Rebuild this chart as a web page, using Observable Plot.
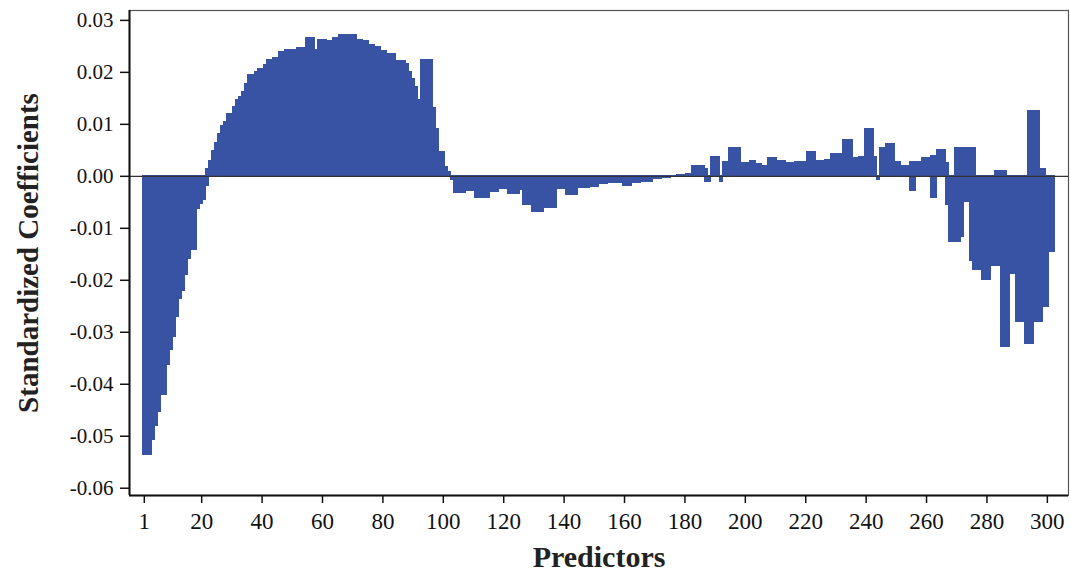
<!DOCTYPE html>
<html>
<head>
<meta charset="utf-8">
<script src="https://cdn.jsdelivr.net/npm/d3@7"></script>
<script src="https://cdn.jsdelivr.net/npm/@observablehq/plot@0.6"></script>
<style>
  html, body { margin: 0; padding: 0; background: #fff; }
  #chart { width: 1070px; height: 575px; }
</style>
</head>
<body>
<div id="chart"></div>
<script>
// Standardized coefficient per predictor (1..302)
const coefficients = [
  -0.0536,-0.0536,-0.0536,-0.0508,-0.0480,-0.0454,-0.0420,-0.0420,-0.0363,-0.0335,
  -0.0310,-0.0270,-0.0236,-0.0220,-0.0189,-0.0160,-0.0141,-0.0141,-0.0062,-0.0053,
  -0.0045,0.0014,0.0030,0.0049,0.0065,0.0082,0.0096,0.0104,0.0119,0.0119,
  0.0134,0.0146,0.0153,0.0163,0.0178,0.0194,0.0194,0.0200,0.0207,0.0207,
  0.0215,0.0223,0.0223,0.0228,0.0228,0.0239,0.0239,0.0243,0.0243,0.0243,
  0.0243,0.0247,0.0247,0.0247,0.0267,0.0267,0.0267,0.0243,0.0262,0.0262,
  0.0262,0.0260,0.0260,0.0267,0.0267,0.0271,0.0271,0.0271,0.0271,0.0271,
  0.0271,0.0262,0.0262,0.0260,0.0260,0.0253,0.0253,0.0248,0.0248,0.0242,
  0.0242,0.0235,0.0235,0.0235,0.0221,0.0221,0.0221,0.0216,0.0200,0.0187,
  0.0171,0.0146,0.0224,0.0224,0.0224,0.0224,0.0132,0.0091,0.0046,0.0046,
  0.0017,0.0008,-0.0007,-0.0032,-0.0032,-0.0032,-0.0032,-0.0028,-0.0028,-0.0028,
  -0.0042,-0.0042,-0.0042,-0.0042,-0.0042,-0.0031,-0.0031,-0.0031,-0.0024,-0.0024,
  -0.0024,-0.0034,-0.0034,-0.0034,-0.0034,-0.0026,-0.0056,-0.0056,-0.0056,-0.0068,
  -0.0068,-0.0068,-0.0068,-0.0061,-0.0061,-0.0061,-0.0061,-0.0024,-0.0024,-0.0024,
  -0.0036,-0.0036,-0.0036,-0.0036,-0.0022,-0.0022,-0.0022,-0.0022,-0.0020,-0.0020,
  -0.0020,-0.0015,-0.0015,-0.0015,-0.0012,-0.0012,-0.0012,-0.0012,-0.0012,-0.0018,
  -0.0018,-0.0018,-0.0013,-0.0013,-0.0013,-0.0010,-0.0010,-0.0010,-0.0010,-0.0006,
  -0.0006,-0.0006,-0.0004,-0.0004,-0.0004,-0.0002,-0.0002,0.0002,0.0002,0.0002,
  0.0005,0.0005,0.0019,0.0019,0.0019,0.0019,0.0014,-0.0010,0.0038,0.0038,
  0.0038,-0.0010,0.0027,0.0027,0.0055,0.0055,0.0055,0.0055,0.0025,0.0025,
  0.0025,0.0030,0.0030,0.0023,0.0023,0.0019,0.0019,0.0035,0.0035,0.0035,
  0.0030,0.0030,0.0030,0.0025,0.0025,0.0025,0.0027,0.0027,0.0027,0.0027,
  0.0046,0.0046,0.0046,0.0030,0.0030,0.0030,0.0031,0.0031,0.0043,0.0043,
  0.0043,0.0043,0.0069,0.0069,0.0069,0.0035,0.0035,0.0038,0.0038,0.0092,
  0.0092,0.0092,0.0037,-0.0007,0.0055,0.0055,0.0062,0.0062,0.0062,0.0027,
  0.0027,0.0019,0.0019,0.0019,-0.0029,-0.0029,0.0027,0.0027,0.0035,0.0035,
  0.0035,0.0040,0.0040,0.0051,0.0051,0.0051,-0.0056,-0.0127,-0.0127,-0.0127,
  -0.0127,-0.0117,-0.0050,-0.0050,-0.0162,-0.0181,-0.0181,-0.0181,-0.0199,-0.0199,
  -0.0199,-0.0172,-0.0172,-0.0172,-0.0328,-0.0328,-0.0328,-0.0188,-0.0188,-0.0281,
  -0.0281,-0.0281,-0.0322,-0.0322,-0.0322,-0.0281,-0.0281,-0.0281,-0.0251,-0.0251,
  -0.0146,-0.0146
];
const predictors = coefficients.map((_, i) => i + 1);

// Second, overlapping bars visible in the figure at the same predictor positions
const overlapPredictors = [22, 187, 255, 256, 262, 263, 267, 270, 271, 272, 273, 274, 275, 276, 283, 284, 285, 286, 294, 295, 296, 297, 298, 299];
const overlapCoefficients = [-0.0018, -0.0010, 0.0027, 0.0027, -0.0042, -0.0042, 0.0025, 0.0055, 0.0055, 0.0055, 0.0055, 0.0055, 0.0055, 0.0055, 0.0011, 0.0011, 0.0011, 0.0011, 0.0126, 0.0126, 0.0126, 0.0126, 0.0014, 0.0014];

const xTicks = [1, 20, 40, 60, 80, 100, 120, 140, 160, 180, 200, 220, 240, 260, 280, 300];
const yTicks = [-0.06, -0.05, -0.04, -0.03, -0.02, -0.01, 0.00, 0.01, 0.02, 0.03];
const xLabel = "Predictors";
const yLabel = "Standardized Coefficients";

const bars = predictors.map((p, i) => ({p, c: coefficients[i]}));
const overlaps = overlapPredictors.map((p, i) => ({p, c: overlapCoefficients[i]}));

const barColor = "#3953a4";
const serif = "'Liberation Serif', 'Times New Roman', serif";
const xDomain = [-3.9, 307];
const yDomain = [-0.0614, 0.0319];

const chart = Plot.plot({
  width: 1070,
  height: 575,
  marginLeft: 129,
  marginRight: 2,
  marginTop: 10,
  marginBottom: 80,
  style: {fontFamily: serif, color: "#111", background: "#fff"},
  x: {domain: xDomain, axis: null},
  y: {domain: yDomain, axis: null},
  marks: [
    Plot.rect(bars, {x1: d => d.p - 0.5, x2: d => d.p + 0.5, y1: 0, y2: "c", fill: barColor, stroke: barColor, strokeWidth: 1, shapeRendering: "crispEdges"}),
    Plot.rect(overlaps, {x1: d => d.p - 0.5, x2: d => d.p + 0.5, y1: 0, y2: "c", fill: barColor, stroke: barColor, strokeWidth: 1, shapeRendering: "crispEdges"}),
    Plot.ruleY([0], {stroke: "#333", strokeWidth: 1.2}),
    Plot.frame({stroke: "#555", strokeWidth: 1.2}),
    Plot.ruleX([xDomain[0]], {stroke: "#111", strokeWidth: 2}),
    Plot.ruleY([yDomain[0]], {stroke: "#111", strokeWidth: 2}),
    Plot.axisY({ticks: yTicks, tickFormat: d => d.toFixed(2), tickSize: 9, tickPadding: 7, fontSize: 21, label: null, stroke: "#111", strokeWidth: 1.5, style: "letter-spacing:1.5px"}),
    Plot.axisX({ticks: xTicks, tickFormat: d => String(d), tickSize: 8, tickPadding: 9, fontSize: 23, label: null, stroke: "#111", strokeWidth: 1.5}),
    Plot.text([yLabel], {frameAnchor: "left", dx: -101, rotate: -90, text: d => d, fontSize: 29, fontWeight: "bold", fill: "#222", textAnchor: "middle", lineAnchor: "middle"}),
    Plot.text([xLabel], {frameAnchor: "bottom", dy: 62, text: d => d, fontSize: 30, fontWeight: "bold", fill: "#222", textAnchor: "middle", lineAnchor: "middle"})
  ]
});
document.getElementById("chart").appendChild(chart);
</script>
</body>
</html>
